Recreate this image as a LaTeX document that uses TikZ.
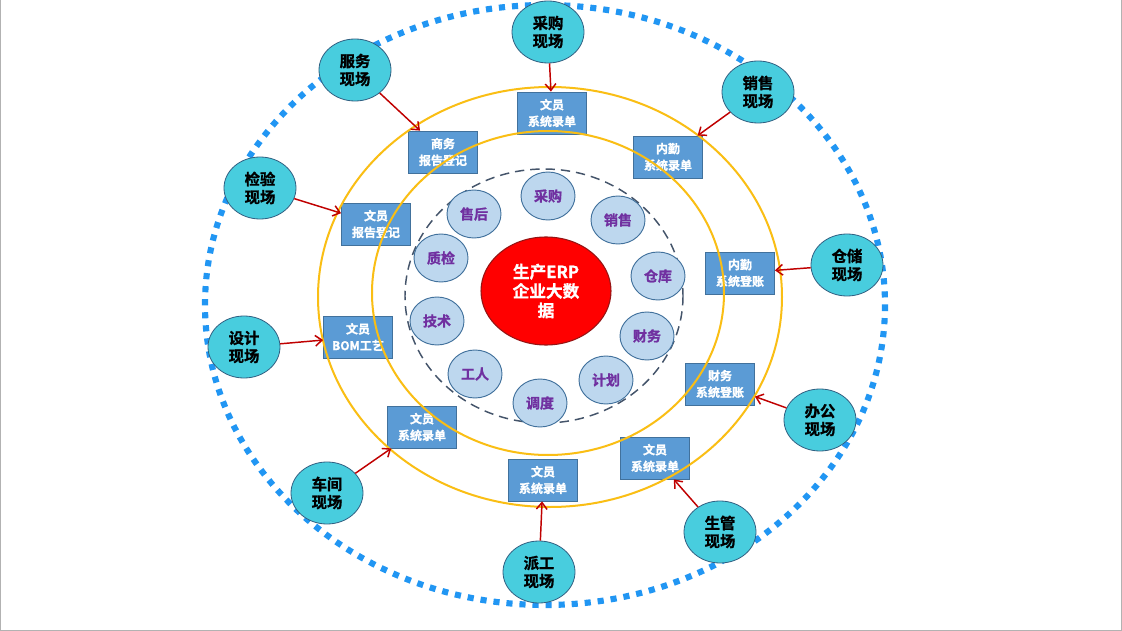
\documentclass[tikz,border=0pt]{standalone}
\usepackage{fontspec}
\setmainfont{Noto Sans CJK SC}[BoldFont={Noto Sans CJK SC Bold},BoldFeatures={FakeBold=1.2}]
\usetikzlibrary{shapes.geometric,arrows.meta}
\definecolor{dotblue}{RGB}{33,150,243}
\definecolor{ringyellow}{RGB}{250,190,20}
\definecolor{dashgray}{RGB}{68,84,106}
\definecolor{boxblue}{RGB}{91,155,213}
\definecolor{boxedge}{RGB}{65,113,156}
\definecolor{smallfill}{RGB}{189,215,238}
\definecolor{smalltext}{RGB}{112,48,160}
\definecolor{cyanfill}{RGB}{72,205,222}
\definecolor{cyanedge}{RGB}{49,96,130}
\definecolor{arrowred}{RGB}{192,0,0}
\definecolor{coreedge}{RGB}{150,20,20}
\begin{document}
\begin{tikzpicture}[x=0.75pt,y=-0.75pt,
  boxnode/.style={rectangle,fill=boxblue,draw=boxedge,line width=0.6pt,minimum width=51.75pt,minimum height=31.5pt,inner sep=0pt,text=white,font=\bfseries\fontsize{9}{12.5}\selectfont,align=center},
  sitenode/.style={ellipse,fill=cyanfill,draw=cyanedge,line width=0.6pt,minimum width=54pt,minimum height=46.5pt,inner sep=0pt,text=black,font=\bfseries\fontsize{11.5}{13.5}\selectfont,align=center},
  deptnode/.style={ellipse,fill=smallfill,draw=boxedge,line width=0.7pt,minimum width=40.5pt,minimum height=36pt,inner sep=0pt,text=smalltext,font=\bfseries\fontsize{10.5}{12}\selectfont,align=center},
  corenode/.style={ellipse,fill=red,draw=coreedge,line width=0.8pt,minimum width=97.5pt,minimum height=81pt,inner sep=0pt,text=white,font=\bfseries\fontsize{12.5}{14.5}\selectfont,align=center},
  arr/.style={draw=arrowred,line width=1.1pt,-{Straight Barb[length=5pt,width=8pt]}}]
\useasboundingbox (0,0) rectangle (1122,631);
\fill[white] (0,0) rectangle (1122,631);
\draw[gray!60,line width=1pt] (0.7,0) -- (0.7,630.3) -- (1121.3,630.3) -- (1121.3,0);
% outer dotted ring
\draw[dotblue,line width=4.6pt,dash pattern=on 4.6pt off 5.2pt] (545,305) ellipse (340 and 300);
% boxes
\node[boxnode] (b1) at (552,113) {文员\\系统录单};
\node[boxnode] (b2) at (443,152) {商务\\报告登记};
\node[boxnode] (b3) at (668,157) {内勤\\系统录单};
\node[boxnode] (b4) at (376,224) {文员\\报告登记};
\node[boxnode] (b5) at (740,273) {内勤\\系统登账};
\node[boxnode] (b6) at (358,337) {文员\\BOM工艺};
\node[boxnode] (b7) at (720,384) {财务\\系统登账};
\node[boxnode] (b8) at (422,427) {文员\\系统录单};
\node[boxnode] (b9) at (655,458) {文员\\系统录单};
\node[boxnode] (b10) at (543,480) {文员\\系统录单};
% yellow rings
\draw[ringyellow,line width=1.5pt] (550,297) ellipse (232 and 210);
\draw[ringyellow,line width=1.5pt] (548,293) ellipse (176 and 162);
% dashed ring
\draw[dashgray,line width=1.1pt,dash pattern=on 7pt off 4.5pt] (544,296) ellipse (139 and 127);
% core
\node[corenode] (core) at (546,291) {生产ERP\\企业大数\\据};
% departments
\node[deptnode] (d1) at (548,196) {采购};
\node[deptnode] (d2) at (618,220) {销售};
\node[deptnode] (d3) at (658,276) {仓库};
\node[deptnode] (d4) at (647,336) {财务};
\node[deptnode] (d5) at (606,380) {计划};
\node[deptnode] (d6) at (540,403) {调度};
\node[deptnode] (d7) at (475,374) {工人};
\node[deptnode] (d8) at (437,321) {技术};
\node[deptnode] (d9) at (441,258) {质检};
\node[deptnode] (d10) at (474,214) {售后};
% sites
\node[sitenode] (s1) at (548,32) {采购\\现场};
\node[sitenode] (s2) at (355,70) {服务\\现场};
\node[sitenode] (s3) at (758,92) {销售\\现场};
\node[sitenode] (s4) at (260,188) {检验\\现场};
\node[sitenode] (s5) at (847,265) {仓储\\现场};
\node[sitenode] (s6) at (244,347) {设计\\现场};
\node[sitenode] (s7) at (820,420) {办公\\现场};
\node[sitenode] (s8) at (327,493) {车间\\现场};
\node[sitenode] (s9) at (720,532) {生管\\现场};
\node[sitenode] (s10) at (539,572) {派工\\现场};
% arrows
\draw[arr] (s1) -- (b1);
\draw[arr] (s2) -- (b2);
\draw[arr] (s3) -- (b3);
\draw[arr] (s4) -- (b4);
\draw[arr] (s5) -- (b5);
\draw[arr] (s6) -- (b6);
\draw[arr] (s7) -- (b7);
\draw[arr] (s8) -- (b8);
\draw[arr] (s9) -- (b9);
\draw[arr] (s10) -- (b10);
\end{tikzpicture}
\end{document}
